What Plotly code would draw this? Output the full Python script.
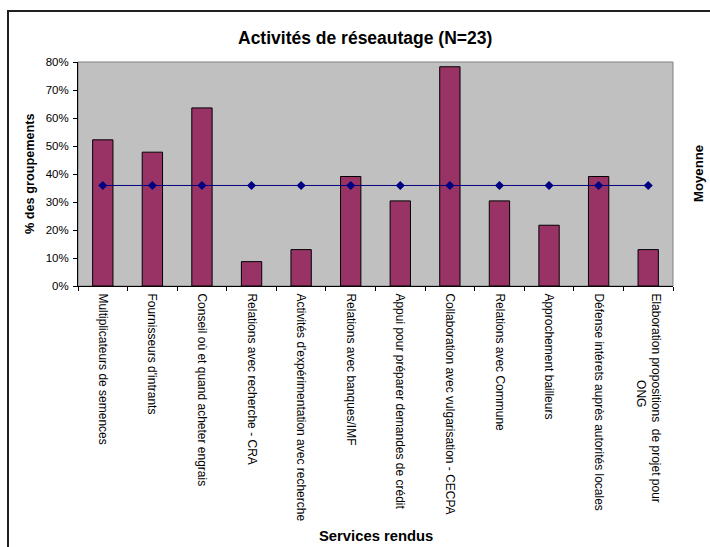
import plotly.graph_objects as go

NB = "\u00a0"

# Services rendus par les groupements
categories = [
    "Multiplicateurs de semences",
    "Fournisseurs d'intrants",
    "Conseil où et quand acheter engrais",
    "Relations avec recherche - CRA",
    "Activités d'expérimentation avec recherche",
    "Relations avec banques/IMF",
    "Appui pour préparer demandes de crédit",
    "Collaboration avec vulgarisation - CECPA",
    "Relations avec Commune",
    "Approchement bailleurs",
    "Défense intérets auprès autorités locales",
    "Elaboration propositions" + NB + " de projet pour<br>" + NB * 26 + "ONG",
]
pct_groupements = [0.522, 0.478, 0.636, 0.087, 0.130, 0.391,
                   0.304, 0.783, 0.304, 0.217, 0.391, 0.130]
moyenne_valeur = 0.359
moyenne = [moyenne_valeur] * len(categories)
y_ticks = [0, 0.1, 0.2, 0.3, 0.4, 0.5, 0.6, 0.7, 0.8]

FONT = "Liberation Sans, Arial, sans-serif"

fig = go.Figure()
fig.add_trace(go.Bar(
    x=categories, y=pct_groupements,
    marker=dict(color="#993366", line=dict(color="black", width=1)),
    name="% des groupements",
))
fig.add_trace(go.Scatter(
    x=categories, y=moyenne, mode="lines+markers",
    line=dict(color="#000080", width=1),
    marker=dict(symbol="diamond", size=7, color="#000080"),
    name="Moyenne",
))

W, H = 710, 547
L, R, T, B = 78, 37, 62, 261
pw, ph = W - L - R, H - T - B

def px_x(x):
    return (x - L) / pw

def px_y(y):
    return (H - B - y) / ph

fig.update_layout(
    width=W, height=H,
    margin=dict(l=L, r=R, t=T, b=B, pad=0),
    paper_bgcolor="white",
    plot_bgcolor="#C0C0C0",
    showlegend=False,
    bargap=0.59,
    font=dict(family=FONT, size=11, color="black"),
    xaxis=dict(
        type="category", range=[-0.5, len(categories) - 0.5],
        tickangle=90, tickson="boundaries",
        ticks="outside", ticklen=4, tickcolor="black",
        ticklabelstandoff=4,
        showline=True, linecolor="black", linewidth=1,
        showgrid=False, tickfont=dict(size=12),
    ),
    yaxis=dict(
        range=[0, 0.8], tickvals=y_ticks, tickformat=".0%",
        ticks="outside", ticklen=4, tickcolor="black",
        ticklabelstandoff=2,
        showline=True, linecolor="black", linewidth=1,
        showgrid=False, zeroline=False, tickfont=dict(size=11.5),
    ),
    shapes=[
        # plot area frame
        dict(type="rect", xref="paper", yref="paper", x0=0, y0=0, x1=1, y1=1,
             line=dict(color="#808080", width=1), layer="below"),
        # outer chart frame
        dict(type="rect", xref="paper", yref="paper",
             x0=px_x(8), y0=px_y(11), x1=px_x(740), y1=px_y(580),
             line=dict(color="#202020", width=2)),
    ],
    annotations=[
        dict(text="<b>Activités de réseautage (N=23)</b>", xref="paper", yref="paper",
             x=px_x(365), y=px_y(38), showarrow=False, font=dict(size=17.5),
             xanchor="center", yanchor="middle"),
        dict(text="<b>% des groupements</b>", xref="paper", yref="paper",
             x=px_x(30), y=px_y(174), showarrow=False, textangle=-90,
             font=dict(size=12.7), xanchor="center", yanchor="middle"),
        dict(text="<b>Services rendus</b>", xref="paper", yref="paper",
             x=px_x(375.5), y=px_y(536), showarrow=False,
             font=dict(size=14.8), xanchor="center", yanchor="middle"),
        dict(text="<b>Moyenne</b>", xref="paper", yref="paper",
             x=px_x(698), y=px_y(174), showarrow=False, textangle=-90,
             font=dict(size=13.2), xanchor="center", yanchor="middle"),
    ],
)

fig.write_html("out.html")
